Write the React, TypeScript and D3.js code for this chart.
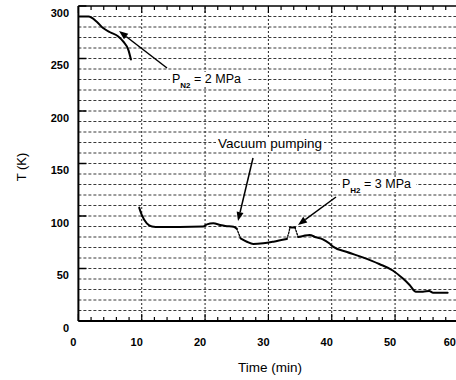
import React from "react";
import * as d3 from "d3";

// data: [time (min), temperature (K)]
const n2Cooling: [number, number][] = [
  [0.2, 290], [1.6, 290], [2.9, 285], [3.9, 279], [5, 275], [6.3, 271], [7.1, 266], [7.9, 258], [8.3, 249],
];
const stage1: [number, number][] = [
  [9.6, 108], [10, 101], [10.8, 93], [11.6, 90], [12.2, 89.6], [16, 89.6], [19.7, 90], [20.3, 92],
  [21.3, 93], [22.4, 91.4], [23.2, 90.5], [24.5, 89.8], [25, 88],
];
const vacuumDrop: [number, number][] = [[25, 88], [25.3, 83.5], [25.6, 78.7]];
const vacuumStage: [number, number][] = [
  [25.6, 78.7], [26.6, 75.5], [27.6, 73.3], [29.2, 74], [30.8, 75.5], [32.9, 78],
];
const h2RiseA: [number, number][] = [[32.9, 78], [33.2, 83.5], [33.4, 89]];
const h2Step: [number, number][] = [[33.4, 89], [34.2, 89]];
const h2RiseB: [number, number][] = [[34.2, 89], [34.5, 83.5], [34.7, 80]];
const h2Stage: [number, number][] = [
  [34.7, 80], [35.5, 81], [36.5, 82], [37.5, 79.7], [38.6, 77.8], [39.6, 74], [40.2, 70.8],
  [42.3, 66], [44.9, 60.6], [47.5, 54.3], [49.7, 47.9], [51.2, 40.6], [52.3, 34.3],
  [53.3, 27.9], [54.4, 27.9], [55.4, 28.6], [56, 27], [58.3, 27],
];

const xTicks = [0, 10, 20, 30, 40, 50, 60];
const yTicks = [0, 50, 100, 150, 200, 250, 300];
const xMinor = d3.range(0, 61, 2);
const yGrid = d3.range(10, 300, 10);
const xGrid = [10, 20, 30, 40, 50];

const FONT = "'Liberation Sans', Arial, Helvetica, sans-serif";

export default function App() {
  const x = d3.scaleLinear().domain([0, 60]).range([78.4, 458.4]);
  const y = d3.scaleLinear().domain([0, 300]).range([321, 6]);
  const line = d3.line<[number, number]>().x((d) => x(d[0])).y((d) => y(d[1])).curve(d3.curveMonotoneX);
  const lineLin = d3.line<[number, number]>().x((d) => x(d[0])).y((d) => y(d[1]));

  const arrow = (x1: number, y1: number, x2: number, y2: number, key: string) => {
    const ang = Math.atan2(y2 - y1, x2 - x1);
    const L = 9, W = 3.5;
    const bx = x2 - L * Math.cos(ang), by = y2 - L * Math.sin(ang);
    const px = -Math.sin(ang) * W, py = Math.cos(ang) * W;
    return (
      <g key={key}>
        <line x1={x1} y1={y1} x2={bx} y2={by} stroke="#000" strokeWidth={1.5} />
        <path d={`M${x2},${y2}L${bx + px},${by + py}L${bx - px},${by - py}Z`} fill="#000" />
      </g>
    );
  };

  return (
    <svg width={456} height={380} style={{ position: "absolute", left: 0, top: 0, background: "#fff" }} fontFamily={FONT}>
      {/* grid */}
      {yGrid.map((v) => (
        <line key={"hg" + v} x1={x(0)} x2={x(60)} y1={y(v)} y2={y(v)} stroke="#222" strokeWidth={0.9} strokeDasharray="3,2" />
      ))}
      {xGrid.map((v) => (
        <line key={"vg" + v} x1={x(v)} x2={x(v)} y1={y(0)} y2={y(300)} stroke="#222" strokeWidth={1} strokeDasharray="2,2" />
      ))}
      {/* frame */}
      <line x1={x(0)} x2={x(60)} y1={y(300)} y2={y(300)} stroke="#000" strokeWidth={1.6} />
      <line x1={x(0)} x2={x(60)} y1={y(0)} y2={y(0)} stroke="#000" strokeWidth={2} />
      <line x1={x(0)} x2={x(0)} y1={y(0)} y2={y(300)} stroke="#000" strokeWidth={2} />
      {/* ticks */}
      {xMinor.map((v) => {
        const len = v % 10 === 0 ? 7 : 4;
        return (
          <g key={"xt" + v}>
            <line x1={x(v)} x2={x(v)} y1={y(0)} y2={y(0) - len} stroke="#000" strokeWidth={1.2} />
            <line x1={x(v)} x2={x(v)} y1={y(300)} y2={y(300) + len} stroke="#000" strokeWidth={1.2} />
          </g>
        );
      })}
      {yTicks.map((v) => (
        <line key={"yt" + v} x1={x(0)} x2={x(0) + 8} y1={y(v)} y2={y(v)} stroke="#000" strokeWidth={1.5} />
      ))}
      {/* tick labels */}
      {yTicks.map((v) => (
        <text key={"yl" + v} x={69} y={y(v) + 10.5} textAnchor="end" fontSize={11} fontWeight="bold">{v}</text>
      ))}
      {xTicks.map((v) => (
        <text key={"xl" + v} x={v === 60 ? 456 : x(v) - 5} y={346} textAnchor={v === 60 ? "end" : "middle"} fontSize={11} fontWeight="bold">{v}</text>
      ))}
      <text x={270} y={372} textAnchor="middle" fontSize={13.5}>Time (min)</text>
      <text transform="translate(26,167) rotate(-90)" textAnchor="middle" fontSize={13}>T (K)</text>
      {/* data */}
      <g fill="none" stroke="#000" strokeLinejoin="round" strokeLinecap="round">
        <path d={line(n2Cooling) || ""} strokeWidth={2} />
        <path d={line(stage1) || ""} strokeWidth={2} />
        <path d={lineLin(vacuumDrop) || ""} strokeWidth={1.3} strokeDasharray="1.5,1.5" />
        <path d={line(vacuumStage) || ""} strokeWidth={2} />
        <path d={lineLin(h2RiseA) || ""} strokeWidth={1.3} strokeDasharray="1.5,1.5" />
        <path d={lineLin(h2Step) || ""} strokeWidth={2} />
        <path d={lineLin(h2RiseB) || ""} strokeWidth={1.3} strokeDasharray="1.5,1.5" />
        <path d={line(h2Stage) || ""} strokeWidth={2} />
      </g>
      {/* annotations */}
      {arrow(167, 68, 119, 31, "a1")}
      {arrow(253, 158, 238, 221, "a2")}
      {arrow(336, 197, 298, 225, "a3")}
      <rect x={170} y={72} width={77} height={15} fill="#fff" />
      <text x={172} y={83} fontSize={12.5}>
        P<tspan fontSize={8} fontWeight="bold" dy={5}>N2</tspan><tspan dy={-5}> = 2 MPa</tspan>
      </text>
      <rect x={216} y={137} width={108} height={15} fill="#fff" />
      <text x={218} y={148.3} fontSize={13.5}>Vacuum pumping</text>
      <rect x={340} y={177} width={76} height={15} fill="#fff" />
      <text x={342} y={188} fontSize={12.5}>
        P<tspan fontSize={8} fontWeight="bold" dy={5}>H2</tspan><tspan dy={-5}> = 3 MPa</tspan>
      </text>
    </svg>
  );
}
